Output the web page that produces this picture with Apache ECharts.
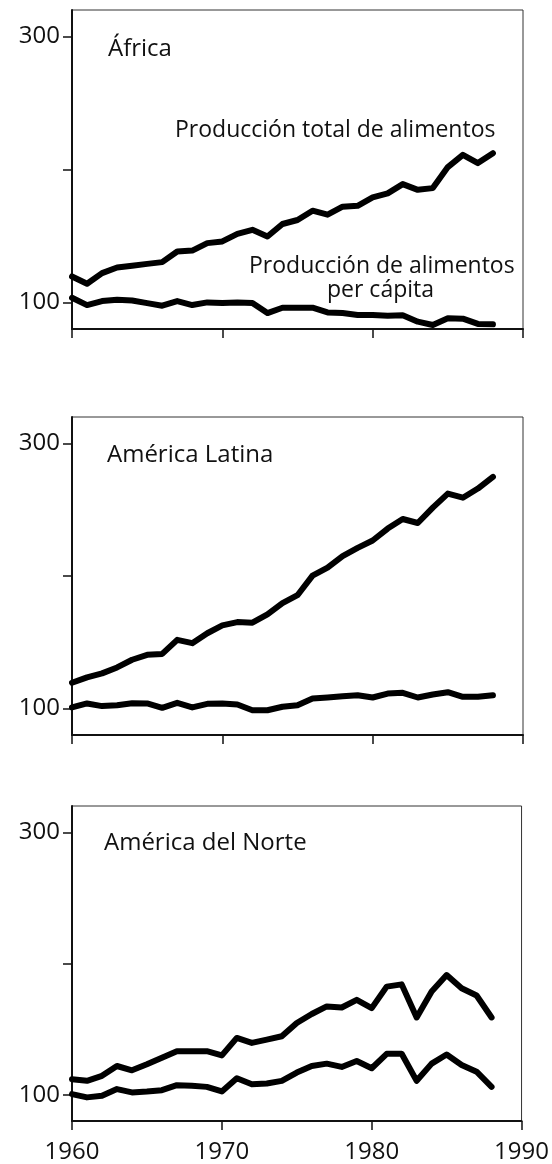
<!DOCTYPE html>
<html>
<head>
<meta charset="utf-8">
<script src="https://cdn.jsdelivr.net/npm/echarts@6/dist/echarts.min.js"></script>
<style>html,body{margin:0;padding:0;background:#fff}#c{width:552px;height:1164px}</style>
</head>
<body>
<div id="c"></div>
<script>
const years = [1960,1961,1962,1963,1964,1965,1966,1967,1968,1969,1970,1971,1972,1973,1974,1975,1976,1977,1978,1979,1980,1981,1982,1983,1984,1985,1986,1987,1988];
const xTicks = [1960,1970,1980,1990];
const yTicks = [100,200,300];
const yLabels = [100,300];
const regions = ['África','América Latina','América del Norte'];

const africaTotal   = [119.5,114,122,126.3,127.6,129,130.3,138.3,139,144.6,145.9,151.6,154.6,149.6,159,162,169,166,172,172.7,179,182,189,184.7,186,201.8,211,204.8,212.3];
const africaPerCap  = [103.5,98,101,102,101.5,99.5,97.5,101,98,100,99.5,100,99.5,92,96,96,96,92.5,92,90.5,90.5,90,90.3,85.5,83,88,87.8,83.8,83.5];
const latamTotal    = [119.4,123.5,126.5,131,136.8,140.5,141.2,151.8,149.3,156.8,162.7,165.2,164.8,171,179.5,185.5,200.3,206.3,215,221.2,226.8,235.8,243,240,251.6,262.2,259.1,266,274.8];
const latamPerCap   = [100.8,103.8,101.8,102.5,104,103.8,100.5,104.3,100.8,103.5,103.8,103,98.7,98.7,101.3,102.5,107.5,108.3,109.3,110,108.3,111.3,111.8,108.3,110.6,112.3,108.8,108.8,110];
const naTotal       = [111.8,110.6,114.4,121.9,118.6,123.2,128.2,133.2,133.2,133.2,130,143.3,139.5,142,144.6,154.7,161.5,167.3,166.5,172.3,166,182.4,184.1,158.9,178.6,191.2,181.1,175.6,158.9];
const naPerCap      = [100.5,98,99.2,104.3,101.8,102.5,103.5,107.3,106.8,106,102.5,112.6,108,108.6,110.6,116.9,121.9,123.7,121.2,125.7,120.2,131.2,131.2,110.6,123.7,130.7,122.7,117.6,106];

const seriesData = [[africaTotal, africaPerCap],[latamTotal, latamPerCap],[naTotal, naPerCap]];

const FONT = '"Open Sans"';
const grids = [
  {left:72, right:29, top:10, height:319},
  {left:72, right:29, top:417, height:318},
  {left:72, right:29, top:806, height:318}
];

const option = {
  backgroundColor:'#fff',
  animation:false,
  grid: grids.map(g => Object.assign({show:true, borderColor:'#333', borderWidth:1, backgroundColor:'transparent'}, g)),
  xAxis: grids.map((g,i) => ({
    gridIndex:i, type:'value', min:1960, max:1990, interval:10,
    axisLine:{show:true, onZero:false, lineStyle:{color:'#111', width:2}},
    axisTick:{show:true, inside:false, length:9, customValues:xTicks, lineStyle:{color:'#111', width:1.5}},
    axisLabel:{show:i===2, customValues:xTicks, formatter:v => String(v), color:'#111', fontFamily:'Open Sans', fontSize:24, margin:19},
    splitLine:{show:false}
  })),
  yAxis: grids.map((g,i) => ({
    gridIndex:i, type:'value', min:80, max:320,
    axisLine:{show:true, onZero:false, lineStyle:{color:'#111', width:2}},
    axisTick:{show:true, inside:false, length:9, customValues:yTicks, lineStyle:{color:'#111', width:1.5}},
    axisLabel:{show:true, customValues:yLabels, formatter:v => String(v), color:'#111', fontFamily:'Open Sans', fontSize:24, margin:12},
    splitLine:{show:false}
  })),
  series: [],
  graphic: [
    {type:'text', left:108, top:37, style:{text:regions[0], font:'24px '+FONT, fill:'#111'}},
    {type:'text', left:175, top:119, style:{text:'Producción total de alimentos', font:'23px '+FONT, fill:'#111'}},
    {type:'text', left:249, top:255, style:{text:'Producción de alimentos', font:'23px '+FONT, fill:'#111'}},
    {type:'text', left:327, top:279, style:{text:'per cápita', font:'23px '+FONT, fill:'#111'}},
    {type:'text', left:107, top:443, style:{text:regions[1], font:'24px '+FONT, fill:'#111'}},
    {type:'text', left:104, top:831, style:{text:regions[2], font:'24px '+FONT, fill:'#111'}}
  ]
};

seriesData.forEach((pair, gi) => {
  pair.forEach(vals => {
    option.series.push({
      type:'line', xAxisIndex:gi, yAxisIndex:gi,
      data: years.map((y,k) => [y, vals[k]]),
      showSymbol:false, symbol:'none',
      lineStyle:{color:'#000', width:6, join:'round', cap:'round'}
    });
  });
});

const chart = echarts.init(document.getElementById('c'));
chart.setOption(option);
</script>
</body>
</html>
